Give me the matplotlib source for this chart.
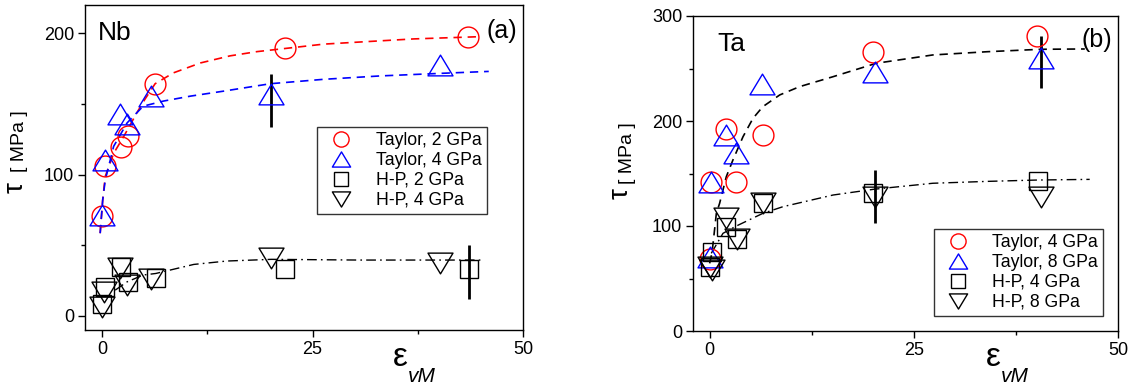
import matplotlib
matplotlib.use("Agg")
import matplotlib.pyplot as plt
from matplotlib.path import Path
from matplotlib.ticker import MultipleLocator

plt.rcParams['font.family'] = ['Liberation Sans', 'DejaVu Sans']

# ---------------- Nb (a) ----------------
nb_t2_x = [0, 0.32, 2.3, 3.16, 6.32, 21.7, 43.4]
nb_t2_y = [70.8, 105.8, 119.3, 127.1, 164.3, 189.3, 197.6]
nb_t4_x = [0, 0.32, 2.1, 3.0, 5.85, 20.1, 40.1]
nb_t4_y = [71.5, 110.5, 143, 135.9, 155.3, 157, 177.3]
nb_hp2_x = [0, 0.32, 2.3, 3.16, 6.4, 21.7, 43.5]
nb_hp2_y = [8.3, 20.6, 34.8, 24.1, 26.5, 32.9, 32.9]
nb_hp4_x = [0, 0.2, 2.2, 3.0, 5.85, 20.1, 40.1]
nb_hp4_y = [6, 17, 33.6, 21.8, 25.8, 40.7, 37.4]
# error bars
nb_err_x = [20.1, 43.5]
nb_err_y = [152.5, 31.2]
nb_err = [19.0, 19.0]
# fit curves
nb_fit2_x = [-0.2, 0.1, 0.4, 1.4, 2.6, 4.15, 5.1, 6.32, 8.5, 11.7, 15.2, 18.4, 21.7, 26.3, 30.6, 37, 44.9]
nb_fit2_y = [58.5, 82, 98.7, 115, 127, 143.7, 153.2, 164.3, 172, 179, 184, 187, 189.2, 192.3, 193.8, 196, 197.6]
nb_fit4_x = [-0.2, 0.1, 0.4, 1.4, 3.0, 4.9, 7.3, 10.5, 14.4, 20, 26.3, 33, 40.1, 45.9]
nb_fit4_y = [58.5, 82, 96, 120, 136.6, 148.4, 152, 155.5, 159, 164.3, 167.4, 169.8, 171.6, 173]
nb_fithp_x = [1.58, 3.0, 4.9, 6.4, 10.9, 14.8, 20.1, 30.6, 45.0]
nb_fithp_y = [18.2, 24.1, 28.9, 30, 36.4, 38.8, 40, 39.5, 39.5]

# ---------------- Ta (b) ----------------
ta_t4_x = [0, 0.2, 2.04, 3.18, 6.5, 20.0, 40.1]
ta_t4_y = [69, 142.2, 192.4, 142.2, 186.7, 266, 281]
ta_t8_x = [0, 0.2, 2.04, 3.18, 6.45, 20.2, 40.5]
ta_t8_y = [70.2, 141.6, 186.7, 169.8, 235.4, 247, 260]
ta_hp4_x = [0, 0.3, 2.0, 3.3, 6.5, 20.0, 40.2]
ta_hp4_y = [61.2, 75.5, 99.4, 87.3, 121.6, 131, 142.9]
ta_hp8_x = [0, 0.3, 2.0, 3.3, 6.5, 20.2, 40.5]
ta_hp8_y = [61, 58, 107.3, 88, 121.6, 128, 128]
ta_err_x = [20.2, 40.5]
ta_err_y = [128, 256]
ta_err = [25, 25]
ta_fitt_x = [0, 0.3, 0.82, 1.22, 2.04, 2.85, 4.08, 5.3, 6.5, 8.57, 11, 15.1, 20.4, 27.3, 34, 40.5, 45.9]
ta_fitt_y = [64.4, 75, 112, 121.6, 147, 162.9, 185, 202.5, 213.6, 224.8, 232.7, 242.2, 255, 262.9, 266, 268.3, 268.6]
ta_fithp_x = [0.2, 1.63, 3.27, 6.5, 8.97, 15.1, 20.1, 27.3, 34, 40.2, 46.5]
ta_fithp_y = [74, 93, 100, 112, 118.4, 129.5, 135, 140.7, 142.5, 143.8, 144.4]

W, H = 1130, 387
fig = plt.figure(figsize=(W / 100, H / 100), dpi=100)

def px_axes(l, r, t, b):
    return fig.add_axes([l / W, 1 - b / H, (r - l) / W, (b - t) / H])

ax1 = px_axes(85, 523.3, 5, 330)
ax2 = px_axes(693.3, 1118.3, 16, 331)

# triangles a bit wider than tall, like the original
tri_up = Path([(0, 0.83), (-1, -0.83), (1, -0.83), (0, 0.83)], closed=True)
tri_dn = Path([(0, -0.83), (-1, 0.83), (1, 0.83), (0, -0.83)], closed=True)

mk = dict(linestyle='none', markerfacecolor='none', markeredgewidth=1.0)

def style(ax):
    for s in ax.spines.values():
        s.set_linewidth(1.0)
    ax.tick_params(which='both', direction='out', top=False, right=False,
                   labelsize=13, width=1.0)
    ax.tick_params(which='major', length=5, pad=3)
    ax.tick_params(which='minor', length=3)
    ax.xaxis.set_major_locator(MultipleLocator(25))
    ax.xaxis.set_minor_locator(MultipleLocator(12.5))
    ax.yaxis.set_major_locator(MultipleLocator(100))
    ax.yaxis.set_minor_locator(MultipleLocator(50))

def legend(ax, x0, y0):
    leg = ax.legend(loc='upper left', bbox_to_anchor=(x0, y0),
                    fontsize=12.7, numpoints=1, fancybox=False, edgecolor='#333333',
                    framealpha=1, borderaxespad=0, handlelength=2.1, handletextpad=0.9,
                    markerscale=0.73, borderpad=0.3, labelspacing=0.17)
    leg.get_frame().set_linewidth(1.0)

# panel (a)
ax1.plot(nb_fit2_x, nb_fit2_y, color='red', ls=(0, (5, 3.5)), lw=1.2)
ax1.plot(nb_fit4_x, nb_fit4_y, color='blue', ls=(0, (5, 3.5)), lw=1.2)
ax1.plot(nb_fithp_x, nb_fithp_y, color='black', ls=(0, (7, 3, 1.2, 3)), lw=1.0)
ax1.errorbar(nb_err_x, nb_err_y, yerr=nb_err, fmt='none', ecolor='black', elinewidth=2, capsize=0)
ax1.plot(nb_t2_x, nb_t2_y, marker='o', markersize=15, markeredgecolor='red', label='Taylor, 2 GPa', **mk)
ax1.plot(nb_t4_x, nb_t4_y, marker=tri_up, markersize=18, markeredgecolor='blue', label='Taylor, 4 GPa', **mk)
ax1.plot(nb_hp2_x, nb_hp2_y, marker='s', markersize=13, markeredgecolor='black', label='H-P, 2 GPa', **mk)
ax1.plot(nb_hp4_x, nb_hp4_y, marker=tri_dn, markersize=18, markeredgecolor='black', label='H-P, 4 GPa', **mk)
ax1.set_xlim(-2, 50)
ax1.set_ylim(-10, 220)
style(ax1)
ax1.text(0.03, 0.914, 'Nb', transform=ax1.transAxes, fontsize=19, va='center', ha='left')
ax1.text(0.986, 0.92, '(a)', transform=ax1.transAxes, fontsize=18, va='center', ha='right')
legend(ax1, (317.3 - 85) / 438.3, (330 - 126.7) / 325)

# panel (b)
ax2.plot(ta_fitt_x, ta_fitt_y, color='black', ls=(0, (5, 3.5)), lw=1.2)
ax2.plot(ta_fithp_x, ta_fithp_y, color='black', ls=(0, (7, 3, 1.2, 3)), lw=1.0)
ax2.errorbar(ta_err_x, ta_err_y, yerr=ta_err, fmt='none', ecolor='black', elinewidth=2, capsize=0)
ax2.plot(ta_t4_x, ta_t4_y, marker='o', markersize=15, markeredgecolor='red', label='Taylor, 4 GPa', **mk)
ax2.plot(ta_t8_x, ta_t8_y, marker=tri_up, markersize=18, markeredgecolor='blue', label='Taylor, 8 GPa', **mk)
ax2.plot(ta_hp4_x, ta_hp4_y, marker='s', markersize=13, markeredgecolor='black', label='H-P, 4 GPa', **mk)
ax2.plot(ta_hp8_x, ta_hp8_y, marker=tri_dn, markersize=18, markeredgecolor='black', label='H-P, 8 GPa', **mk)
ax2.set_xlim(-2, 50)
ax2.set_ylim(0, 300)
style(ax2)
ax2.text(0.056, 0.911, 'Ta', transform=ax2.transAxes, fontsize=19, va='center', ha='left')
ax2.text(0.985, 0.925, '(b)', transform=ax2.transAxes, fontsize=18, va='center', ha='right')
legend(ax2, (934 - 693.3) / 425, (331 - 228.7) / 315)

# axis labels as separate texts (big tau / epsilon, smaller units / subscript)
def ftext(x, y, s, **kw):
    fig.text(x / W, 1 - y / H, s, **kw)

for xt, yt, xm, ym in [(16, 188, 20, 141), (621, 194, 627, 153)]:
    ftext(xt, yt, 'τ', fontsize=20, rotation=90, ha='center', va='center')
    ftext(xm, ym, '[ MPa ]', fontsize=14, rotation=90, ha='center', va='center')

for xe in [400, 993]:
    ftext(xe, 358, 'ε', fontsize=24, ha='center', va='center')
    ftext(xe + 8, 376, 'vM', fontsize=15, style='italic', ha='left', va='center')

fig.savefig('out.png', dpi=100)
